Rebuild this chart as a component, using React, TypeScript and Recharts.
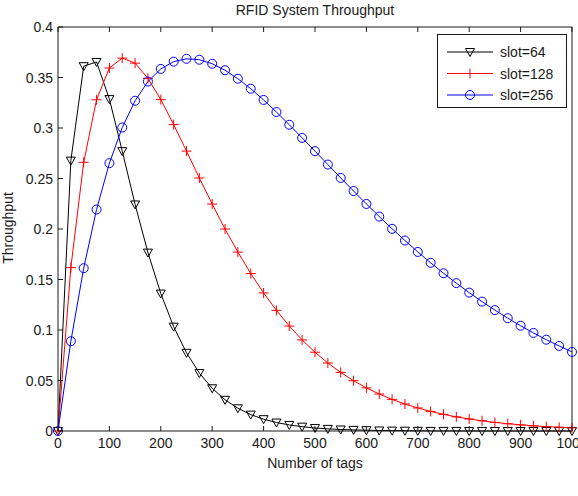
import { Line, LineChart, XAxis, YAxis } from "recharts";

const TAGS = [
  0, 25, 50, 75, 100, 125, 150, 175, 200, 225, 250, 275, 300, 325, 350, 375, 400, 425, 450, 475, 500,
  525, 550, 575, 600, 625, 650, 675, 700, 725, 750, 775, 800, 825, 850, 875, 900, 925, 950, 975, 1000,
];

const SLOT64 = [
  0, 0.2677, 0.3612, 0.3654, 0.3286, 0.2771, 0.2243, 0.1766, 0.1361, 0.1033, 0.0774, 0.0574, 0.0423,
  0.0309, 0.0225, 0.0162, 0.0117, 0.0084, 0.006, 0.0043, 0.003, 0.0021, 0.0015, 0.0011, 0.0008, 0.0005,
  0.0004, 0.0003, 0.0002, 0.0001, 0.0001, 0.0001, 0, 0, 0, 0, 0, 0, 0, 0, 0,
];

const SLOT128 = [
  0, 0.1618, 0.266, 0.328, 0.3594, 0.3692, 0.3642, 0.3492, 0.3281, 0.3034, 0.2771, 0.2505, 0.2247, 0.2,
  0.1771, 0.1559, 0.1367, 0.1194, 0.1039, 0.0902, 0.078, 0.0673, 0.058, 0.0498, 0.0427, 0.0366, 0.0313,
  0.0267, 0.0228, 0.0194, 0.0165, 0.014, 0.0119, 0.0101, 0.0085, 0.0072, 0.0061, 0.0051, 0.0043, 0.0037,
  0.0031,
];

const SLOT256 = [
  0, 0.0889, 0.1612, 0.2193, 0.2652, 0.3005, 0.327, 0.346, 0.3585, 0.3657, 0.3685, 0.3676, 0.3636,
  0.3572, 0.3488, 0.3389, 0.3278, 0.3158, 0.3032, 0.2902, 0.2771, 0.2638, 0.2506, 0.2376, 0.2248, 0.2123,
  0.2002, 0.1886, 0.1773, 0.1665, 0.1562, 0.1464, 0.137, 0.1281, 0.1197, 0.1117, 0.1042, 0.0971, 0.0904,
  0.0842, 0.0783,
];

const X_TICKS = [0, 100, 200, 300, 400, 500, 600, 700, 800, 900, 1000];
const Y_TICKS = [0, 0.05, 0.1, 0.15, 0.2, 0.25, 0.3, 0.35, 0.4];

const LEGEND = [
  { key: "s64", label: "slot=64", color: "#000000", marker: "tri" },
  { key: "s128", label: "slot=128", color: "#ff0000", marker: "plus" },
  { key: "s256", label: "slot=256", color: "#0000ff", marker: "circle" },
];

const FONT = "'Liberation Sans', Arial, sans-serif";
const INK = "#1a1a1a";
const TICK_LEN = 5;

const data = TAGS.map((tags, i) => ({
  tags,
  s64: SLOT64[i],
  s128: SLOT128[i],
  s256: SLOT256[i],
}));

function Marker({ kind, cx, cy, color }: { kind: string; cx: number; cy: number; color: string }) {
  if (kind === "tri") {
    return (
      <path
        d={`M${cx - 4.5},${cy - 3.5}L${cx + 4.5},${cy - 3.5}L${cx},${cy + 4.5}Z`}
        fill="none"
        stroke={color}
        strokeWidth={1}
      />
    );
  }
  if (kind === "plus") {
    return (
      <path
        d={`M${cx - 5},${cy}H${cx + 5}M${cx},${cy - 5}V${cy + 5}`}
        fill="none"
        stroke={color}
        strokeWidth={1}
      />
    );
  }
  return <circle cx={cx} cy={cy} r={4.5} fill="none" stroke={color} strokeWidth={1} />;
}

const dotFor = (kind: string, color: string) => (p: any) => {
  if (p.cx == null || p.cy == null) return <g key={p.index} />;
  return <Marker key={p.index} kind={kind} cx={p.cx} cy={p.cy} color={color} />;
};

const textStyle = { fontSize: 14, fill: INK, fontFamily: FONT };

function BottomTick({ x, y, payload }: any) {
  return (
    <g>
      <line x1={x} y1={y} x2={x} y2={y - TICK_LEN} stroke={INK} />
      <text x={x} y={y + 17} textAnchor="middle" {...textStyle}>
        {payload.value}
      </text>
    </g>
  );
}

function TopTick({ x, y }: any) {
  return <line x1={x} y1={y} x2={x} y2={y + TICK_LEN} stroke={INK} />;
}

function LeftTick({ x, y, payload }: any) {
  return (
    <g>
      <line x1={x} y1={y} x2={x + TICK_LEN} y2={y} stroke={INK} />
      <text x={x - 5} y={y + 5} textAnchor="end" {...textStyle}>
        {payload.value}
      </text>
    </g>
  );
}

function RightTick({ x, y }: any) {
  return <line x1={x} y1={y} x2={x - TICK_LEN} y2={y} stroke={INK} />;
}

function LegendBox() {
  return (
    <svg
      width={130}
      height={74}
      style={{ position: "absolute", left: 437, top: 34, overflow: "visible" }}
    >
      <rect x={0.5} y={0.5} width={129} height={73} fill="#fff" stroke={INK} />
      {LEGEND.map((item, i) => {
        const cy = 18 + i * 21.5;
        return (
          <g key={item.key}>
            <line x1={10} y1={cy} x2={56} y2={cy} stroke={item.color} />
            <Marker kind={item.marker} cx={33} cy={cy} color={item.color} />
            <text x={63} y={cy + 5} {...textStyle}>
              {item.label}
            </text>
          </g>
        );
      })}
    </svg>
  );
}

export default function App() {
  return (
    <div style={{ position: "relative", width: 578, height: 496, fontFamily: FONT, color: INK, overflow: "hidden" }}>
      <style>{`body{margin:0}`}</style>
      <LineChart width={578} height={496} data={data} margin={{ top: 26, right: 0, bottom: 0, left: 0 }}>
        <XAxis
          xAxisId="bottom"
          dataKey="tags"
          type="number"
          domain={[0, 1000]}
          ticks={X_TICKS}
          interval={0}
          height={65}
          tickSize={0}
          tickMargin={0}
          tickLine={false}
          tick={BottomTick}
          axisLine={{ stroke: INK }}
        />
        <XAxis
          xAxisId="top"
          orientation="top"
          dataKey="tags"
          type="number"
          domain={[0, 1000]}
          ticks={X_TICKS}
          interval={0}
          height={1}
          tickSize={0}
          tickMargin={0}
          tickLine={false}
          tick={TopTick}
          axisLine={{ stroke: INK }}
        />
        <YAxis
          yAxisId="left"
          type="number"
          domain={[0, 0.4]}
          ticks={Y_TICKS}
          interval={0}
          width={58}
          tickSize={0}
          tickMargin={0}
          tickLine={false}
          tick={LeftTick}
          axisLine={{ stroke: INK }}
        />
        <YAxis
          yAxisId="right"
          orientation="right"
          type="number"
          domain={[0, 0.4]}
          ticks={Y_TICKS}
          interval={0}
          width={6}
          tickSize={0}
          tickMargin={0}
          tickLine={false}
          tick={RightTick}
          axisLine={{ stroke: INK }}
        />
        <Line
          xAxisId="bottom"
          yAxisId="left"
          dataKey="s64"
          stroke="#000000"
          strokeWidth={1}
          dot={dotFor("tri", "#000000")}
          activeDot={false}
          isAnimationActive={false}
        />
        <Line
          xAxisId="bottom"
          yAxisId="left"
          dataKey="s128"
          stroke="#ff0000"
          strokeWidth={1}
          dot={dotFor("plus", "#ff0000")}
          activeDot={false}
          isAnimationActive={false}
        />
        <Line
          xAxisId="bottom"
          yAxisId="left"
          dataKey="s256"
          stroke="#0000ff"
          strokeWidth={1}
          dot={dotFor("circle", "#0000ff")}
          activeDot={false}
          isAnimationActive={false}
        />
      </LineChart>
      <LegendBox />
      <div
        style={{ position: "absolute", left: 58, width: 514, top: 2, textAlign: "center", fontSize: 14, lineHeight: "16px" }}
      >
        RFID System Throughput
      </div>
      <div
        style={{ position: "absolute", left: 58, width: 514, top: 455, textAlign: "center", fontSize: 14, lineHeight: "16px" }}
      >
        Number of tags
      </div>
      <div
        style={{
          position: "absolute",
          left: 8 - 60,
          top: 228 - 8,
          width: 120,
          height: 16,
          textAlign: "center",
          fontSize: 14,
          lineHeight: "16px",
          transform: "rotate(-90deg)",
        }}
      >
        Throughput
      </div>
    </div>
  );
}
